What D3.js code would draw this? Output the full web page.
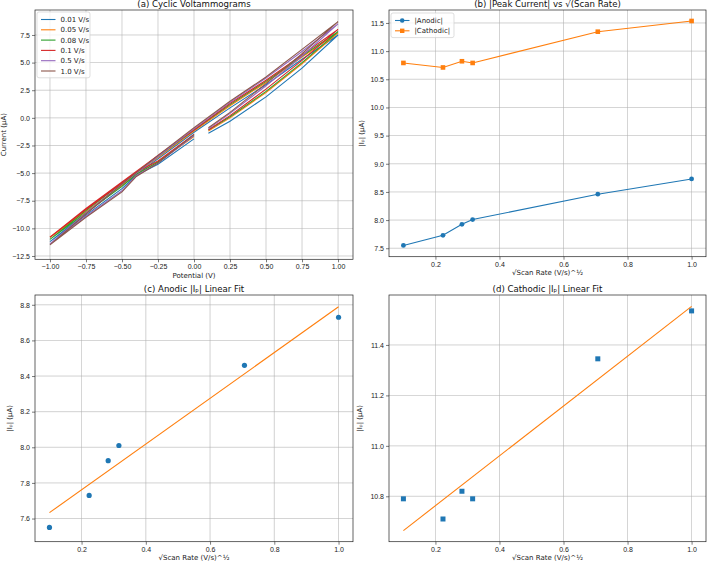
<!DOCTYPE html>
<html>
<head>
<meta charset="utf-8">
<script src="https://cdn.jsdelivr.net/npm/d3@7"></script>
<style>
    body { margin: 0; background: #fff; }
    svg { font-family: "DejaVu Sans", sans-serif; }
    .grid line { stroke: #b0b0b0; stroke-width: 0.7; opacity: 0.8; }
    .tick text { font-size: 7px; fill: #222; }
    .tick line { stroke: #222; stroke-width: 0.6; }
    .frame { fill: none; stroke: #222; stroke-width: 0.7; }
    .title { font-size: 8.6px; fill: #111; text-anchor: middle; }
    .label { font-size: 7px; fill: #222; text-anchor: middle; }
    .legend text { font-size: 7px; fill: #222; }
</style>
</head>
<body>
<div id="chart"></div>
<script>
// potential sweep: 0.1 -> 1.0 -> -1.0 -> 0.0 (V)
const potential = [0.1, 0.25, 0.5, 0.75, 1.0, 0.75, 0.5, 0.25, 0.0, -0.25, -0.5, -0.75, -1.0, -0.75, -0.5, -0.4, -0.25, 0.0];

const scanLabels = ["0.01 V/s", "0.05 V/s", "0.08 V/s", "0.1 V/s", "0.5 V/s", "1.0 V/s"];
// current (µA) at each potential above, one array per scan rate
const cv001 = [-1.4, -0.3, 1.9, 4.5, 7.5, 5.3, 3.0, 0.9, -1.3, -3.7, -6.1, -8.6, -11.2, -8.8, -6.4, -5.2, -4.2, -1.9];
const cv005 = [-1.2, 0.0, 2.3, 4.9, 7.7, 5.5, 3.2, 1.1, -1.2, -3.6, -5.9, -8.3, -10.8, -8.5, -6.1, -5.1, -4.0, -1.7];
const cv008 = [-1.1, 0.1, 2.4, 5.0, 7.8, 5.6, 3.3, 1.2, -1.1, -3.5, -5.9, -8.4, -11.0, -8.6, -6.2, -5.1, -4.0, -1.6];
const cv010 = [-1.1, 0.2, 2.6, 5.2, 8.0, 5.7, 3.4, 1.3, -1.1, -3.4, -5.8, -8.2, -10.8, -8.3, -5.9, -4.9, -3.9, -1.5];
const cv050 = [-1.0, 0.4, 2.9, 5.6, 8.5, 6.0, 3.6, 1.4, -1.0, -3.5, -6.0, -8.6, -11.4, -8.9, -6.6, -5.2, -4.1, -1.6];
const cv100 = [-0.9, 0.5, 3.1, 5.8, 8.7, 6.2, 3.7, 1.5, -0.9, -3.4, -6.0, -8.7, -11.5, -9.0, -6.7, -5.3, -4.1, -1.5];

const sqrtScanRate = [0.1, 0.2236, 0.2828, 0.3162, 0.7071, 1.0];
const anodicPeak = [7.55, 7.73, 7.925, 8.01, 8.46, 8.73];
const cathodicPeak = [10.79, 10.71, 10.82, 10.79, 11.345, 11.535];

// linear fit lines, read at the ends of the x range
const fitX = [0.1, 1.0];
const anodicFit = [7.633, 8.789];
const cathodicFit = [10.664, 11.553];

const cvSeries = [cv001, cv005, cv008, cv010, cv050, cv100];
const colors = d3.schemeCategory10;
const blue = colors[0], orange = colors[1];

const svg = d3.select("#chart").append("svg")
    .attr("width", 708)
    .attr("height", 562);

function makePanel(box, xDomain, yDomain, xTicks, yTicks, xFmt, yFmt, title, xLabel, yLabel, yLabelOff) {
    const x = d3.scaleLinear().domain(xDomain).range([box.left, box.right]);
    const y = d3.scaleLinear().domain(yDomain).range([box.bottom, box.top]);
    const g = svg.append("g");

    // grid
    const grid = g.append("g").attr("class", "grid");
    grid.selectAll(".gx").data(xTicks).enter().append("line")
        .attr("x1", d => x(d)).attr("x2", d => x(d))
        .attr("y1", box.top).attr("y2", box.bottom);
    grid.selectAll(".gy").data(yTicks).enter().append("line")
        .attr("y1", d => y(d)).attr("y2", d => y(d))
        .attr("x1", box.left).attr("x2", box.right);

    g.append("g")
        .attr("transform", "translate(0," + box.bottom + ")")
        .call(d3.axisBottom(x).tickValues(xTicks).tickFormat(d3.format(xFmt)).tickSize(3).tickPadding(2))
        .call(a => a.select(".domain").remove());
    g.append("g")
        .attr("transform", "translate(" + box.left + ",0)")
        .call(d3.axisLeft(y).tickValues(yTicks).tickFormat(d3.format(yFmt)).tickSize(3).tickPadding(2))
        .call(a => a.select(".domain").remove());

    g.append("text").attr("class", "title")
        .attr("x", (box.left + box.right) / 2).attr("y", box.top - 3)
        .text(title);
    g.append("text").attr("class", "label")
        .attr("x", (box.left + box.right) / 2).attr("y", box.bottom + 18.5)
        .text(xLabel);
    g.append("text").attr("class", "label")
        .attr("transform", "translate(" + (box.left - yLabelOff) + "," + ((box.top + box.bottom) / 2) + ") rotate(-90)")
        .text(yLabel);

    const plot = g.append("g");
    g.append("rect").attr("class", "frame")
        .attr("x", box.left).attr("y", box.top)
        .attr("width", box.right - box.left).attr("height", box.bottom - box.top);
    return {g: g, plot: plot, x: x, y: y, box: box};
}

function drawLegend(g, x0, y0, w, entries) {
    const lg = g.append("g").attr("class", "legend");
    lg.append("rect")
        .attr("x", x0).attr("y", y0).attr("width", w).attr("height", entries.length * 10.3 + 4)
        .attr("rx", 2).attr("fill", "#fff").attr("fill-opacity", 0.8)
        .attr("stroke", "#d0d0d0").attr("stroke-width", 0.7);
    entries.forEach((e, i) => {
        const cy = y0 + 7.5 + i * 10.3;
        lg.append("line").attr("x1", x0 + 4).attr("x2", x0 + 18.5).attr("y1", cy).attr("y2", cy)
            .attr("stroke", e.color).attr("stroke-width", 1.1);
        if (e.marker === "circle") {
            lg.append("circle").attr("cx", x0 + 11.2).attr("cy", cy).attr("r", 2.3).attr("fill", e.color);
        } else if (e.marker === "square") {
            lg.append("rect").attr("x", x0 + 9).attr("y", cy - 2.2).attr("width", 4.4).attr("height", 4.4).attr("fill", e.color);
        }
        lg.append("text").attr("x", x0 + 23.5).attr("y", cy + 2.5).text(e.label);
    });
}

// (a) Cyclic voltammograms
const pa = makePanel({left: 35, right: 353, top: 10, bottom: 259.3},
    [-1.104, 1.104], [-12.8, 9.76],
    d3.range(-1, 1.001, 0.25), d3.range(-12.5, 7.51, 2.5), ".2f", ".1f",
    "(a) Cyclic Voltammograms", "Potential (V)", "Current (μA)", 29);
const cvLine = d3.line()
    .x((d, i) => pa.x(potential[i]))
    .y(d => pa.y(d));
pa.plot.selectAll(".cv").data(cvSeries).enter().append("path")
    .attr("d", cvLine)
    .attr("fill", "none")
    .attr("stroke", (d, i) => colors[i])
    .attr("stroke-width", 1.1);
drawLegend(pa.g, 37, 12, 53, scanLabels.map((l, i) => ({label: l, color: colors[i]})));

// (b) |peak current| vs sqrt(scan rate)
const pb = makePanel({left: 389, right: 706, top: 10, bottom: 256.7},
    [0.055, 1.045], [7.35, 11.73],
    [0.2, 0.4, 0.6, 0.8, 1.0], d3.range(7.5, 11.51, 0.5), ".1f", ".1f",
    "(b) |Peak Current| vs √(Scan Rate)", "√Scan Rate (V/s)^½", "|Iₚ| (μA)", 25);
const lineB = ys => d3.line().x((d, i) => pb.x(sqrtScanRate[i])).y(d => pb.y(d))(ys);
pb.plot.append("path").attr("d", lineB(anodicPeak)).attr("fill", "none").attr("stroke", blue).attr("stroke-width", 1.1);
pb.plot.append("path").attr("d", lineB(cathodicPeak)).attr("fill", "none").attr("stroke", orange).attr("stroke-width", 1.1);
pb.plot.selectAll(".an").data(anodicPeak).enter().append("circle")
    .attr("cx", (d, i) => pb.x(sqrtScanRate[i])).attr("cy", d => pb.y(d)).attr("r", 2.4).attr("fill", blue);
pb.plot.selectAll(".ca").data(cathodicPeak).enter().append("rect")
    .attr("x", (d, i) => pb.x(sqrtScanRate[i]) - 2.3).attr("y", d => pb.y(d) - 2.3)
    .attr("width", 4.6).attr("height", 4.6).attr("fill", orange);
drawLegend(pb.g, 391, 13, 63, [
    {label: "|Anodic|", color: blue, marker: "circle"},
    {label: "|Cathodic|", color: orange, marker: "square"}
]);

// (c) anodic linear fit
const pc = makePanel({left: 35, right: 353, top: 295, bottom: 541.7},
    [0.055, 1.045], [7.47, 8.855],
    [0.2, 0.4, 0.6, 0.8, 1.0], d3.range(7.6, 8.81, 0.2), ".1f", ".1f",
    "(c) Anodic |Iₚ| Linear Fit", "√Scan Rate (V/s)^½", "|Iₚ| (μA)", 23);
pc.plot.selectAll(".pt").data(anodicPeak).enter().append("circle")
    .attr("cx", (d, i) => pc.x(sqrtScanRate[i])).attr("cy", d => pc.y(d)).attr("r", 2.6).attr("fill", blue);
pc.plot.append("path")
    .attr("d", d3.line().x((d, i) => pc.x(fitX[i])).y(d => pc.y(d))(anodicFit))
    .attr("fill", "none").attr("stroke", orange).attr("stroke-width", 1.1);

// (d) cathodic linear fit
const pd = makePanel({left: 389, right: 706, top: 295, bottom: 541.7},
    [0.055, 1.045], [10.62, 11.598],
    [0.2, 0.4, 0.6, 0.8, 1.0], [10.8, 11.0, 11.2, 11.4], ".1f", ".1f",
    "(d) Cathodic |Iₚ| Linear Fit", "√Scan Rate (V/s)^½", "|Iₚ| (μA)", 27);
pd.plot.selectAll(".pt").data(cathodicPeak).enter().append("rect")
    .attr("x", (d, i) => pd.x(sqrtScanRate[i]) - 2.5).attr("y", d => pd.y(d) - 2.5)
    .attr("width", 5).attr("height", 5).attr("fill", blue);
pd.plot.append("path")
    .attr("d", d3.line().x((d, i) => pd.x(fitX[i])).y(d => pd.y(d))(cathodicFit))
    .attr("fill", "none").attr("stroke", orange).attr("stroke-width", 1.1);
</script>
</body>
</html>
